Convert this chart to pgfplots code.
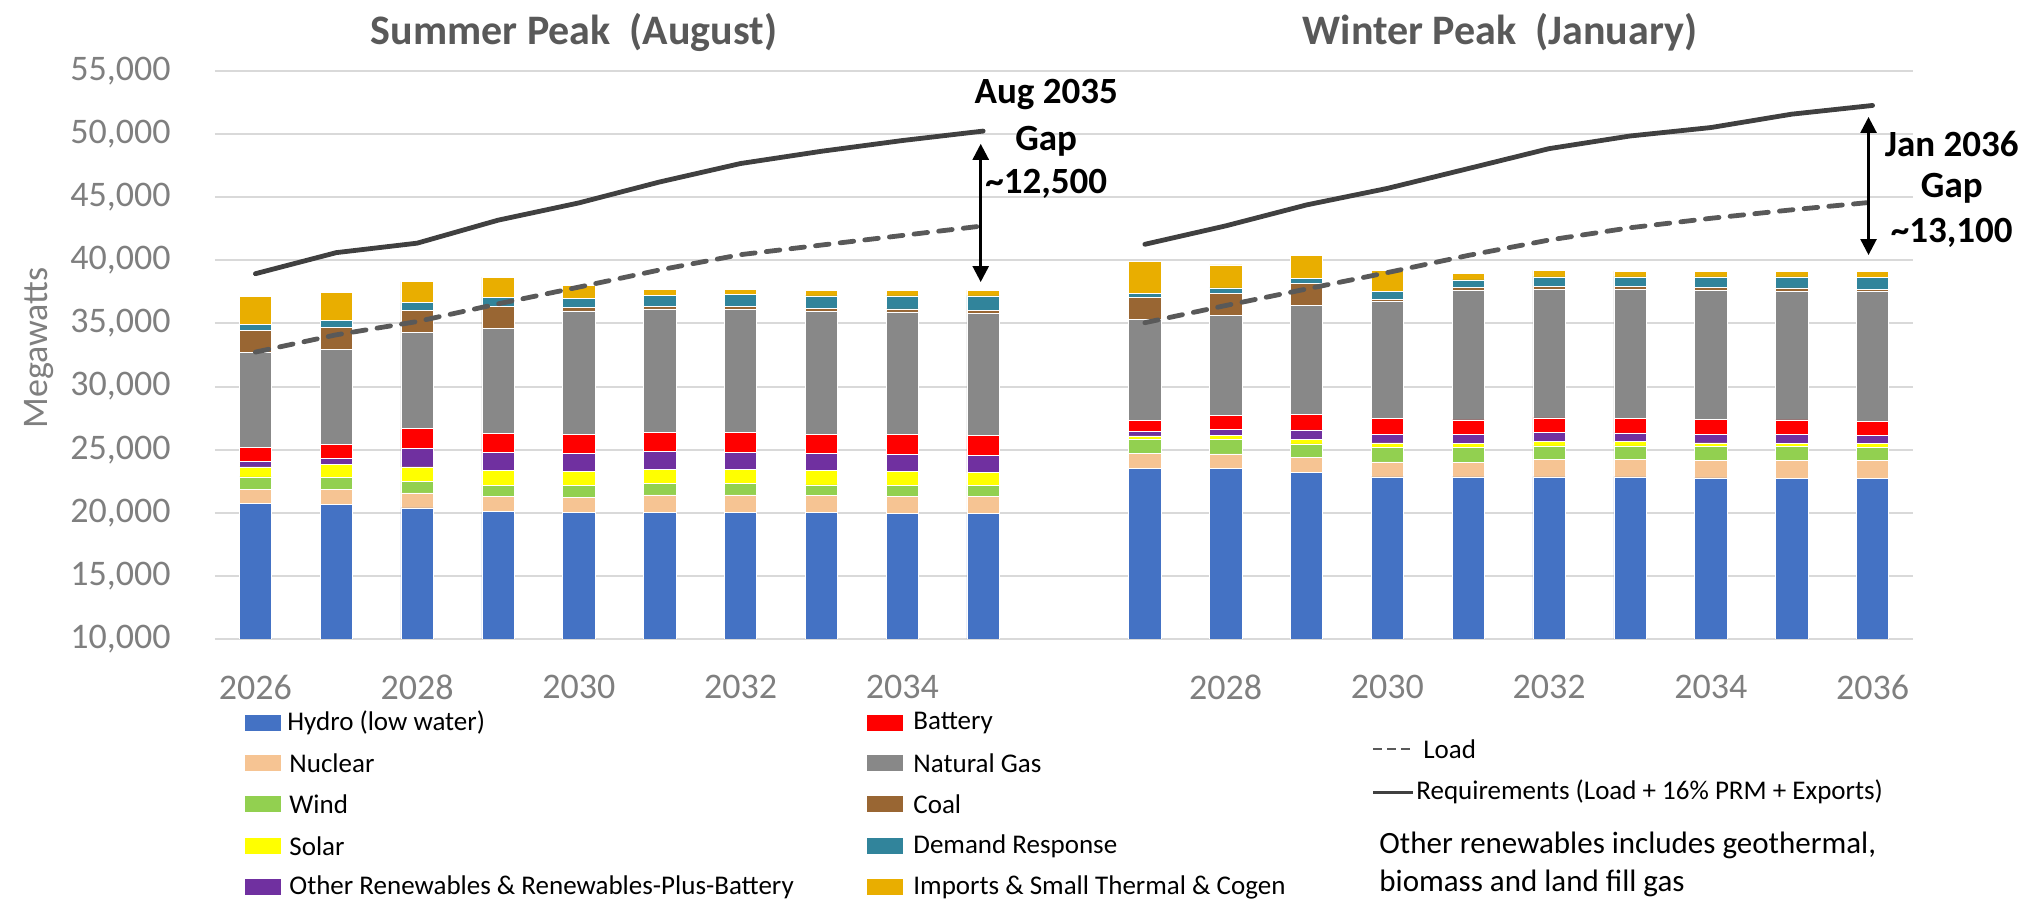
\documentclass[border=0pt]{standalone}
\usepackage{fontspec}
\setmainfont{Carlito}
\usepackage{pgfplots}
\usepackage{pgfplotstable}
\pgfplotsset{compat=1.18}
\usetikzlibrary{arrows.meta}

\definecolor{hydro}{HTML}{4472C4}
\definecolor{nuclear}{HTML}{F6C493}
\definecolor{wind}{HTML}{92D050}
\definecolor{solar}{HTML}{FFFF00}
\definecolor{other}{HTML}{7030A0}
\definecolor{battery}{HTML}{FF0000}
\definecolor{gas}{HTML}{888888}
\definecolor{coal}{HTML}{996633}
\definecolor{dr}{HTML}{31849B}
\definecolor{imports}{HTML}{E9AE00}
\definecolor{gridgray}{HTML}{D9D9D9}
\definecolor{tickgray}{HTML}{7F7F7F}
\definecolor{titlegray}{HTML}{595959}
\definecolor{reqcol}{HTML}{404040}
\definecolor{loadcol}{HTML}{595959}

\newcommand\tickfont{\fontsize{18pt}{21pt}\selectfont}
\newcommand\titlefont{\fontsize{21pt}{25pt}\selectfont\bfseries}
\newcommand\annotfont{\fontsize{18.5pt}{22pt}\selectfont\bfseries}
\newcommand\legfont{\fontsize{13.5pt}{16pt}\selectfont}
\newcommand\notefont{\fontsize{15.5pt}{18pt}\selectfont}

\pgfplotstableread{
x hydro nuclear wind solar other battery gas coal dr imports
0 20730 1150 970 790 450 1060 7580 1730 450 2210
1 20670 1180 940 1030 510 1090 7550 1700 540 2240
2 20390 1180 940 1120 1460 1580 7630 1760 580 1670
3 20090 1180 910 1150 1460 1510 8330 1730 700 1600
4 20030 1180 970 1090 1420 1550 9760 240 760 1000
5 20030 1390 880 1120 1420 1550 9760 210 880 460
6 20030 1390 880 1120 1360 1580 9730 240 940 420
7 20000 1360 850 1120 1390 1520 9730 240 970 450
8 19970 1330 880 1090 1360 1580 9700 240 1030 450
9 19940 1360 880 1000 1390 1550 9700 240 1120 450
11 23490 1240 1120 240 360 850 8030 1730 300 2580
12 23490 1180 1120 330 460 1120 7940 1760 420 1820
13 23180 1180 1090 360 760 1210 8640 1760 420 1760
14 22850 1180 1150 360 700 1210 9300 180 610 1640
15 22850 1150 1150 330 730 1150 10270 210 610 510
16 22850 1390 1060 360 730 1120 10210 240 730 510
17 22850 1360 1090 330 700 1150 10240 210 760 450
18 22760 1420 1060 300 670 1210 10210 240 820 420
19 22730 1390 1120 270 670 1180 10210 240 880 420
20 22730 1390 1030 360 610 1150 10240 210 910 480
}\bars

\pgfplotstableread{
x load req
0 32730 38940
1 34100 40610
2 35150 41360
3 36550 43180
4 37880 44550
5 39240 46210
6 40450 47670
7 41210 48640
8 41970 49490
9 42730 50240
}\summerlines

\pgfplotstableread{
x load req
11 35060 41270
12 36420 42730
13 37730 44390
14 39030 45700
15 40390 47270
16 41610 48850
17 42580 49850
18 43330 50520
19 44000 51580
20 44610 52270
}\winterlines

\begin{document}
\begin{tikzpicture}
\begin{axis}[
  at={(0,0)}, anchor=south west,
  scale only axis, width=849pt, height=284pt,
  xmin=-0.5, xmax=20.5, ymin=10000, ymax=55000,
  enlarge x limits=false, enlarge y limits=false,
  ybar stacked, bar width=0.4,
  axis lines*=left, axis line style={draw=none,-},
  ymajorgrids, grid style={draw=gridgray, line width=1pt},
  major tick length=0pt,
  xtick={0,2,4,6,8,12,14,16,18,20},
  xticklabels={2026,2028,2030,2032,2034,2028,2030,2032,2034,2036},
  ytick={10000,15000,20000,25000,30000,35000,40000,45000,50000,55000},
  scaled y ticks=false,
  /pgf/number format/assume math mode=true,
  yticklabel style={/pgf/number format/fixed, /pgf/number format/1000 sep={,},
    font=\tickfont, text=tickgray, inner sep=0pt, anchor=east, xshift=-22pt},
  xticklabel style={font=\tickfont, text=tickgray, inner sep=0pt, anchor=center, yshift=-24pt},
  every axis plot/.append style={draw=white, line width=0.3pt},
]
\addplot[fill=hydro] table[x=x,y=hydro]{\bars};
\addplot[fill=nuclear] table[x=x,y=nuclear]{\bars};
\addplot[fill=wind] table[x=x,y=wind]{\bars};
\addplot[fill=solar] table[x=x,y=solar]{\bars};
\addplot[fill=other] table[x=x,y=other]{\bars};
\addplot[fill=battery] table[x=x,y=battery]{\bars};
\addplot[fill=gas] table[x=x,y=gas]{\bars};
\addplot[fill=coal] table[x=x,y=coal]{\bars};
\addplot[fill=dr] table[x=x,y=dr]{\bars};
\addplot[fill=imports] table[x=x,y=imports]{\bars};
\end{axis}

\begin{axis}[
  at={(0,0)}, anchor=south west,
  scale only axis, width=849pt, height=284pt,
  xmin=-0.5, xmax=20.5, ymin=10000, ymax=55000,
  hide axis, clip=false,
]
\addplot[loadcol, line width=2.4pt, line cap=round, dash pattern=on 6.8pt off 5.6pt, mark=none] table[x=x,y=load]{\summerlines};
\addplot[reqcol, line width=2.4pt, line cap=round, line join=round, mark=none] table[x=x,y=req]{\summerlines};
\addplot[loadcol, line width=2.4pt, line cap=round, dash pattern=on 6.8pt off 5.6pt, mark=none] table[x=x,y=load]{\winterlines};
\addplot[reqcol, line width=2.4pt, line cap=round, line join=round, mark=none] table[x=x,y=req]{\winterlines};

\draw[{Triangle[width=8pt,length=8pt]}-{Triangle[width=8pt,length=8pt]}, line width=1.3pt]
  (axis cs:8.97,49230) -- (axis cs:8.97,38280);
\draw[{Triangle[width=8pt,length=8pt]}-{Triangle[width=8pt,length=8pt]}, line width=1.3pt]
  (axis cs:19.95,51360) -- (axis cs:19.95,40420);

\node[font=\annotfont, inner sep=0pt] at (axis cs:9.78,53100) {Aug 2035};
\node[font=\annotfont, inner sep=0pt] at (axis cs:9.78,49450) {Gap};
\node[font=\annotfont, inner sep=0pt] at (axis cs:9.78,46050) {\textasciitilde12,500};
\node[font=\annotfont, inner sep=0pt] at (axis cs:20.98,49220) {Jan 2036};
\node[font=\annotfont, inner sep=0pt] at (axis cs:20.98,45730) {Gap};
\node[font=\annotfont, inner sep=0pt] at (axis cs:20.98,42170) {\textasciitilde13,100};
\end{axis}

% titles and axis label
\node[font=\titlefont, text=titlegray, inner sep=0pt] at (179.5pt,303.5pt) {Summer Peak~~(August)};
\node[font=\titlefont, text=titlegray, inner sep=0pt] at (642.5pt,303.5pt) {Winter Peak~~(January)};
\node[font=\tickfont, text=tickgray, rotate=90, inner sep=0pt] at (-88pt,145.5pt) {Megawatts};

% legend, column 1
\fill[hydro]   (15pt,-46pt)   rectangle ++(18pt,8pt);
\fill[nuclear] (15pt,-66pt)   rectangle ++(18pt,8pt);
\fill[wind]    (15pt,-86.5pt) rectangle ++(18pt,8pt);
\fill[solar]   (15pt,-107.5pt) rectangle ++(18pt,8pt);
\fill[other]   (15pt,-128pt)  rectangle ++(18pt,8pt);
\node[font=\legfont, anchor=west, inner sep=0pt] at (36pt,-42pt) {Hydro (low water)};
\node[font=\legfont, anchor=west, inner sep=0pt] at (37pt,-62pt) {Nuclear};
\node[font=\legfont, anchor=west, inner sep=0pt] at (37pt,-82.5pt) {Wind};
\node[font=\legfont, anchor=west, inner sep=0pt] at (37pt,-103.5pt) {Solar};
\node[font=\legfont, anchor=west, inner sep=0pt] at (37pt,-124pt) {Other Renewables \& Renewables-Plus-Battery};
% legend, column 2
\fill[battery] (326pt,-46pt)   rectangle ++(18pt,8pt);
\fill[gas]     (326pt,-66pt)   rectangle ++(18pt,8pt);
\fill[coal]    (326pt,-86.5pt) rectangle ++(18pt,8pt);
\fill[dr]      (326pt,-107.5pt) rectangle ++(18pt,8pt);
\fill[imports] (326pt,-128pt)  rectangle ++(18pt,8pt);
\node[font=\legfont, anchor=west, inner sep=0pt] at (349pt,-42pt) {Battery};
\node[font=\legfont, anchor=west, inner sep=0pt] at (349pt,-62pt) {Natural Gas};
\node[font=\legfont, anchor=west, inner sep=0pt] at (349pt,-82.5pt) {Coal};
\node[font=\legfont, anchor=west, inner sep=0pt] at (349pt,-103.5pt) {Demand Response};
\node[font=\legfont, anchor=west, inner sep=0pt] at (349pt,-124pt) {Imports \& Small Thermal \& Cogen};
% legend, column 3
\draw[loadcol, line width=1.3pt, dash pattern=on 4.5pt off 2.5pt] (579pt,-55pt) -- (597.5pt,-55pt);
\node[font=\legfont, anchor=west, inner sep=0pt] at (604pt,-55pt) {Load};
\draw[reqcol, line width=1.5pt] (579pt,-76.5pt) -- (599pt,-76.5pt);
\node[font=\legfont, anchor=west, inner sep=0pt] at (600.5pt,-76.5pt) {Requirements (Load + 16\% PRM + Exports)};
\node[font=\notefont, anchor=west, inner sep=0pt] at (582pt,-103pt) {Other renewables includes geothermal,};
\node[font=\notefont, anchor=west, inner sep=0pt] at (582pt,-122pt) {biomass and land fill gas};

\path[use as bounding box] (-107.5pt,-130.5pt) rectangle (910.5pt,319.5pt);
\end{tikzpicture}
\end{document}
